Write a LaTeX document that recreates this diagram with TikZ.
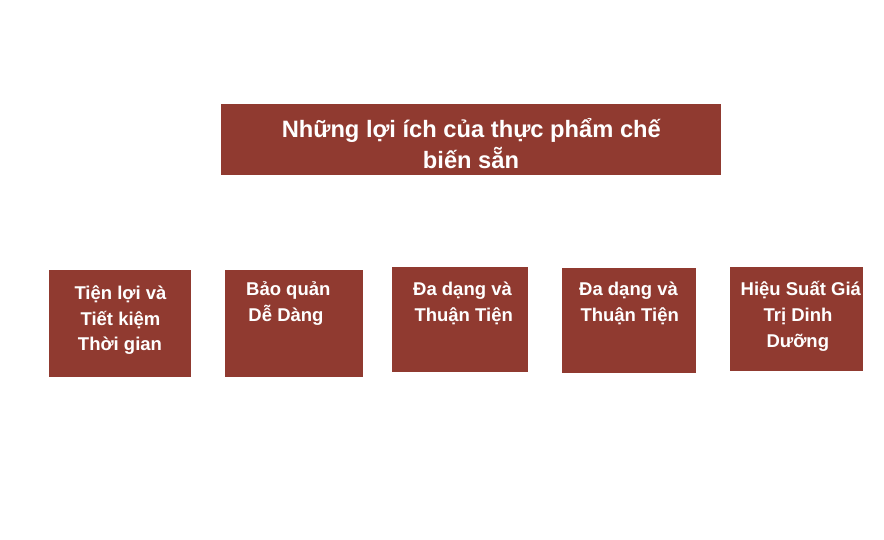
\documentclass[tikz,border=0pt]{standalone}
\usepackage{fontspec}
\setmainfont{Liberation Sans}
\definecolor{boxred}{RGB}{144,58,48}
\begin{document}
\begin{tikzpicture}[x=1pt,y=-1pt,
  box/.style={draw=none,fill=boxred},
  ttl/.style={text=white,font=\fontsize{23.7}{31}\selectfont\bfseries,inner sep=0pt,anchor=base},
  lbl/.style={text=white,font=\fontsize{18.5}{26}\selectfont\bfseries,inner sep=0pt,anchor=base}]
\useasboundingbox[fill=white] (0,0) rectangle (884,540);
% boxes
\path[box] (221,104) rectangle (721,175) coordinate (tbox);
\path[box] (49,270) rectangle (191,377) coordinate (b1);
\path[box] (225,270) rectangle (363,377) coordinate (b2);
\path[box] (392,267) rectangle (528,372) coordinate (b3);
\path[box] (562,268) rectangle (696,373) coordinate (b4);
\path[box] (730,267) rectangle (863,371) coordinate (b5);
% title
\node[ttl] (t1) at (471.3,137.5) {Những lợi ích của thực phẩm chế};
\node[ttl] (t2) at (471,169) {biến sẵn};
% box 1
\node[lbl] (a1) at (120.5,299.5) {Tiện lợi và};
\node[lbl] (a2) at (120.5,325) {Tiết kiệm};
\node[lbl] (a3) at (120,350.5) {Thời gian};
% box 2
\node[lbl] (c1) at (288.3,295) {Bảo quản};
\node[lbl] (c2) at (286,321) {Dễ Dàng};
% box 3
\node[lbl] (d1) at (462.5,295) {Đa dạng và};
\node[lbl] (d2) at (463.7,321) {Thuận Tiện};
% box 4
\node[lbl] (e1) at (628.5,295) {Đa dạng và};
\node[lbl] (e2) at (629.7,321) {Thuận Tiện};
% box 5
\node[lbl] (f1) at (800.8,295) {Hiệu Suất Giá};
\node[lbl] (f2) at (798,321) {Trị Dinh};
\node[lbl] (f3) at (797.8,347) {Dưỡng};
\end{tikzpicture}
\end{document}
